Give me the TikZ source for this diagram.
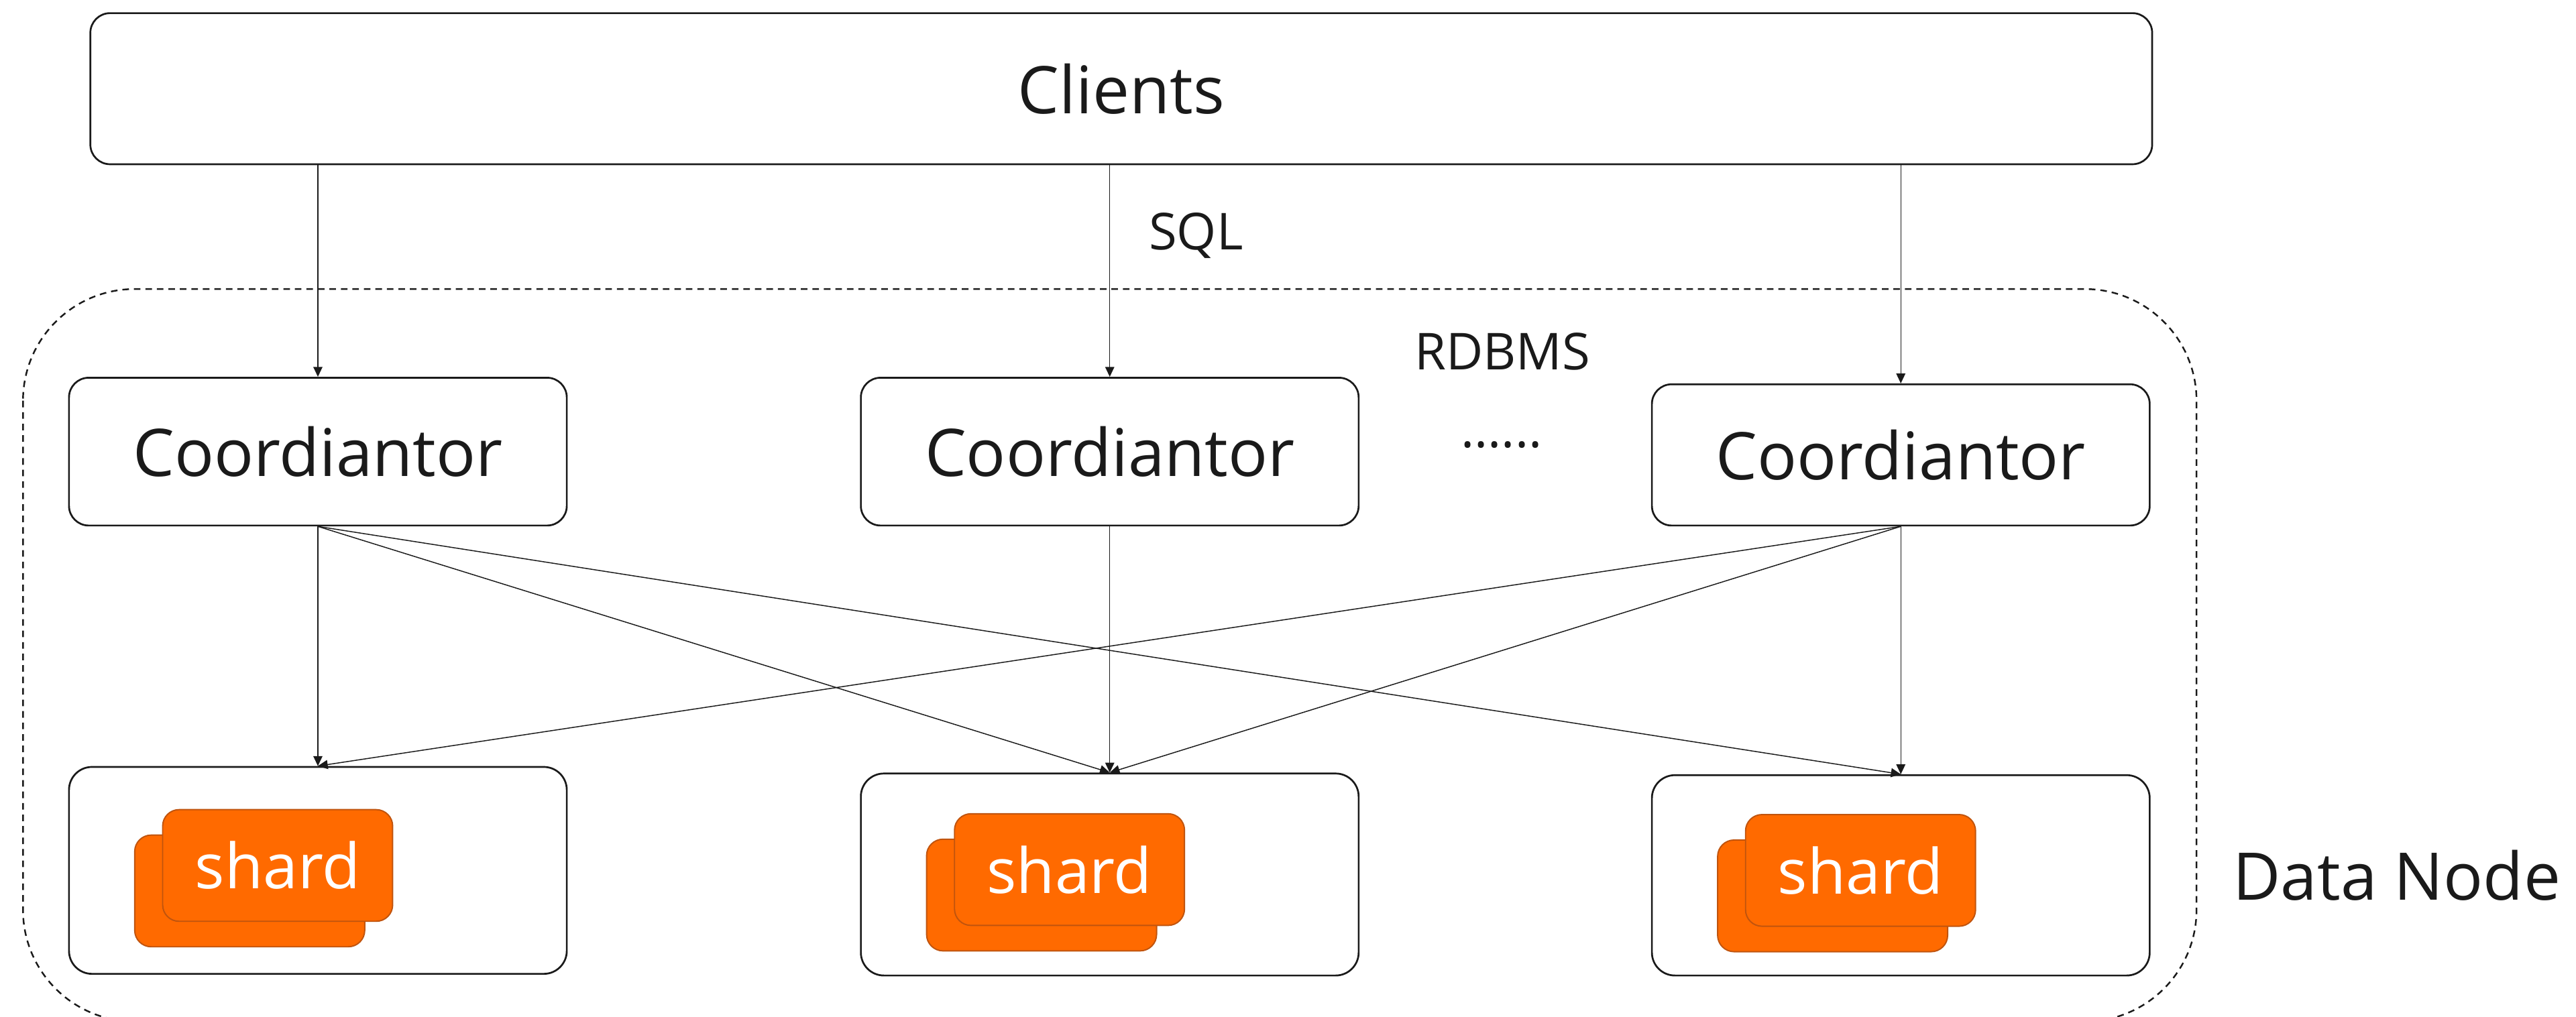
\documentclass[tikz,border=0pt]{standalone}
\usepackage{fontspec}
\setmainfont{Open Sans}
\usetikzlibrary{arrows.meta}

\definecolor{ink}{HTML}{1A1A1A}
\definecolor{shardfill}{HTML}{FF6A00}
\definecolor{shardline}{HTML}{C0540E}

\newcommand\bigtxt{\fontsize{40}{48}\selectfont}
\newcommand\midtxt{\fontsize{31}{37}\selectfont}
\newcommand\shardtxt{\fontsize{38}{46}\selectfont}

\begin{document}
\begin{tikzpicture}[x=1pt,y=-1pt,
  box/.style={draw=ink, line width=1.1pt, rounded corners=12pt, fill=white,
              inner sep=0pt, text=ink},
  coordbox/.style={box, minimum width=303pt, minimum height=90pt, font=\bigtxt},
  dnbox/.style={box, minimum width=303pt, rounded corners=14pt},
  shardbox/.style={draw=shardline, fill=shardfill, line width=0.8pt,
                   rounded corners=10pt, minimum width=140pt, minimum height=68pt,
                   inner sep=0pt, text=white, font=\shardtxt},
  lbl/.style={inner sep=0pt, text=ink},
  conn/.style={draw=ink, line width=0.6pt, -{Triangle[length=6pt,width=5.5pt]}},
  group/.style={draw=ink, line width=1pt, dash pattern=on 4pt off 3pt,
                rounded corners=68pt}
]
\useasboundingbox (0,0) rectangle (1568,619);
\clip (0,0) rectangle (1568,619);

% RDBMS cluster outline (runs past the lower edge)
\draw[group] (14,176) rectangle (1337,622);

% client layer
\node[box, minimum width=1255pt, minimum height=92pt, font=\bigtxt] (clients) at (682.5,54) {Clients};

% coordinators
\node[coordbox] (c1) at (193.5,275) {Coordiantor};
\node[coordbox] (c2) at (675.5,275) {Coordiantor};
\node[coordbox, minimum height=86pt] (c3) at (1157,277) {Coordiantor};

% data nodes
\node[dnbox, minimum height=126pt] (d1) at (193.5,530) {};
\node[dnbox, minimum height=123pt] (d2) at (675.5,532.5) {};
\node[dnbox, minimum height=122pt] (d3) at (1157,533) {};

% stacked shards inside each data node
\node[shardbox] (s1b) at ([shift={(-41.5,12.5)}]d1.center) {};
\node[shardbox] (s1)  at ([shift={(-24.5,-3)}]d1.center) {shard};
\node[shardbox] (s2b) at ([shift={(-41.5,12.5)}]d2.center) {};
\node[shardbox] (s2)  at ([shift={(-24.5,-3)}]d2.center) {shard};
\node[shardbox] (s3b) at ([shift={(-41.5,12.5)}]d3.center) {};
\node[shardbox] (s3)  at ([shift={(-24.5,-3)}]d3.center) {shard};

% labels
\node[lbl, font=\midtxt, anchor=base] (sql) at (728,152) {SQL};
\node[lbl, font=\midtxt, anchor=base] (rdbms) at (914.5,225) {RDBMS};
\node[lbl, font=\midtxt, anchor=base] (more) at (914,272.5) {......};
\node[lbl, font=\bigtxt, anchor=base west] (dnlabel) at (1359,548) {Data Node};

% client requests
\draw[conn] (clients.south -| c1.north) -- (c1.north);
\draw[conn] (clients.south -| c2.north) -- (c2.north);
\draw[conn] (clients.south -| c3.north) -- (c3.north);

% coordinator to data node routing
\draw[conn] (c1.south) -- (d1.north);
\draw[conn] (c1.south) -- (d2.north);
\draw[conn] (c1.south) -- (d3.north);
\draw[conn] (c2.south) -- (d2.north);
\draw[conn] (c3.south) -- (d1.north);
\draw[conn] (c3.south) -- (d2.north);
\draw[conn] (c3.south) -- (d3.north);
\end{tikzpicture}
\end{document}
